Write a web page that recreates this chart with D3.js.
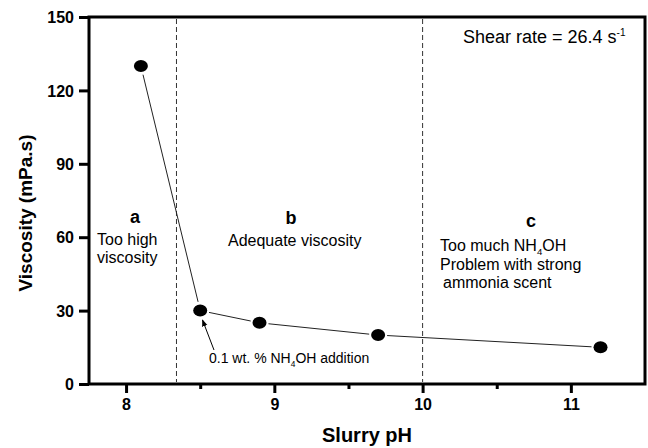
<!DOCTYPE html>
<html><head><meta charset="utf-8">
<script src="https://cdn.jsdelivr.net/npm/d3@7"></script>
<style>body{margin:0;background:#fff}svg{display:block;font-family:"Liberation Sans",Arial,sans-serif}</style>
</head><body>
<svg id="c" width="648" height="448"></svg>
<script>
const phValues = [8.1, 8.5, 8.9, 9.7, 11.2];
const viscosityValues = [130, 30, 25, 20, 15];
const xTicks = [8, 9, 10, 11];
const xMinorTicks = [8.5, 9.5, 10.5];
const yTicks = [0, 30, 60, 90, 120, 150];
const regionBounds = [8.34, 10];

const svg = d3.select("#c");
const L = 89, R = 645, T = 17, B = 384;
const x = d3.scaleLinear().domain([7.75, 11.5]).range([L, R]);
const y = d3.scaleLinear().domain([0, 150]).range([B, T]);

// dashed region lines
svg.selectAll("line.div").data(regionBounds).enter().append("line")
  .attr("x1", d => x(d)).attr("x2", d => x(d)).attr("y1", T + 2).attr("y2", B - 2)
  .attr("stroke", "#333").attr("stroke-width", 1).attr("stroke-dasharray", "5,3");

// axes
const xAxis = d3.axisBottom(x).tickValues(xTicks).tickSize(9).tickPadding(3).tickFormat(d3.format("d"));
const gx = svg.append("g").attr("transform", `translate(0,${B})`).call(xAxis);
const xMinor = d3.axisBottom(x).tickValues(xMinorTicks).tickSize(5).tickFormat("");
const gxm = svg.append("g").attr("transform", `translate(0,${B})`).call(xMinor);
const yAxis = d3.axisLeft(y).tickValues(yTicks).tickSize(10).tickPadding(5);
const gy = svg.append("g").attr("transform", `translate(${L},0)`).call(yAxis);
[gx, gxm, gy].forEach(g => {
  g.select(".domain").remove();
  g.selectAll(".tick line").attr("stroke", "#000").attr("stroke-width", 3);
  g.selectAll(".tick text").attr("fill", "#000").style("font-size", "16px").style("font-weight", "bold");
});
gx.selectAll(".tick text").attr("dy", "0.9em");
gy.selectAll(".tick text").attr("dy", "0.35em");

// frame
svg.append("rect").attr("x", L).attr("y", T).attr("width", R - L).attr("height", B - T)
  .attr("fill", "none").attr("stroke", "#000").attr("stroke-width", 3);

// data
const pts = phValues.map((p, i) => [x(p), y(viscosityValues[i])]);
const gap = 9;
for (let i = 0; i < pts.length - 1; i++) {
  const [x1, y1] = pts[i], [x2, y2] = pts[i + 1];
  const dx = x2 - x1, dy = y2 - y1, len = Math.hypot(dx, dy);
  const ux = dx / len, uy = dy / len;
  svg.append("line")
    .attr("x1", x1 + ux * gap).attr("y1", y1 + uy * gap)
    .attr("x2", x2 - ux * gap).attr("y2", y2 - uy * gap)
    .attr("stroke", "#222").attr("stroke-width", 1);
}
svg.selectAll("ellipse.pt").data(phValues).enter().append("ellipse")
  .attr("cx", d => x(d)).attr("cy", (d, i) => y(viscosityValues[i]))
  .attr("rx", 7).attr("ry", 6).attr("fill", "#000");

// texts
function txt(xp, yp, s, size, weight, anchor) {
  return svg.append("text").attr("x", xp).attr("y", yp).attr("fill", "#000")
    .style("font-size", size + "px").style("font-weight", weight || "normal")
    .attr("text-anchor", anchor || "start").text(s);
}
txt(135, 223, "a", 18, "bold", "middle");
txt(291, 224, "b", 18, "bold", "middle");
txt(531, 227, "c", 18, "bold", "middle");
txt(97, 245, "Too high", 16);
txt(97, 263, "viscosity", 16);
txt(228, 246, "Adequate viscosity", 16);

function nh4(xp, yp, pre, post, size) {
  const t = txt(xp, yp, "", size);
  t.append("tspan").attr("fill", "#000").text(pre + "NH");
  t.append("tspan").attr("fill", "#000").attr("dy", 4).style("font-size", (size * 0.6) + "px").text("4");
  t.append("tspan").attr("fill", "#000").attr("dy", -4).text("OH" + post);
  return t;
}
nh4(440, 251, "Too much ", "", 16);
txt(440, 270, "Problem with strong", 16);
txt(443, 288, "ammonia scent", 16);
nh4(209, 363, "0.1 wt. % ", " addition", 14);

const st = txt(463, 43, "Shear rate = 26.4 s", 18);
st.append("tspan").attr("fill", "#000").attr("dy", -7).style("font-size", "10px").text("-1");

// arrow
svg.append("defs").append("marker").attr("id", "ah").attr("viewBox", "0 0 10 10")
  .attr("refX", 9).attr("refY", 5).attr("markerWidth", 7).attr("markerHeight", 7)
  .attr("orient", "auto").append("path").attr("d", "M0,1 L10,5 L0,9 z").attr("fill", "#000");
svg.append("line").attr("x1", 214).attr("y1", 350).attr("x2", 202.5).attr("y2", 320)
  .attr("stroke", "#000").attr("stroke-width", 1).attr("marker-end", "url(#ah)");

// axis titles
txt((L + R) / 2, 442, "Slurry pH", 20, "bold", "middle");
txt(0, 0, "Viscosity (mPa.s)", 19, "bold", "middle")
  .attr("transform", "translate(32,213) rotate(-90)");
</script>
</body></html>
